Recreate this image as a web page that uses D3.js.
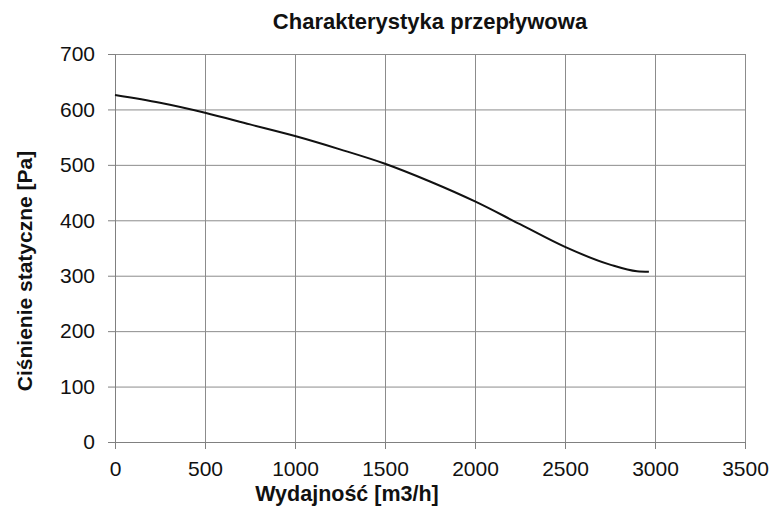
<!DOCTYPE html>
<html><head><meta charset="utf-8">
<script src="https://cdn.jsdelivr.net/npm/d3@7"></script>
<style>body{margin:0;background:#fff}svg{display:block}</style>
</head><body><svg id="c" width="776" height="510"></svg>
<script>
const flow = [0, 250, 500, 750, 1000, 1250, 1500, 1750, 2000, 2250, 2500, 2750, 2900, 2966];
const pressure = [626, 612, 594, 573, 552, 528, 502, 470, 434, 393, 352, 320, 308, 307];
const xTicks = [0, 500, 1000, 1500, 2000, 2500, 3000, 3500];
const yTicks = [0, 100, 200, 300, 400, 500, 600, 700];
const title = "Charakterystyka przepływowa";
const xTitle = "Wydajność [m3/h]";
const yTitle = "Ciśnienie statyczne [Pa]";

const svg = d3.select("#c");
const m = {l:115, r:745, t:54, b:442};
const x = d3.scaleLinear().domain([0,3500]).range([m.l,m.r]);
const y = d3.scaleLinear().domain([0,700]).range([m.b,m.t]);
const font = "'Liberation Sans', Arial, sans-serif";

// grid
svg.append("g").selectAll("line").data(xTicks.slice(1)).join("line")
  .attr("x1",d=>x(d)+0.5).attr("x2",d=>x(d)+0.5).attr("y1",m.t).attr("y2",m.b)
  .attr("stroke","#8c8c8c").attr("stroke-width",1);
svg.append("g").selectAll("line").data(yTicks.slice(1)).join("line")
  .attr("x1",m.l).attr("x2",m.r).attr("y1",d=>y(d)+0.5).attr("y2",d=>y(d)+0.5)
  .attr("stroke","#8c8c8c").attr("stroke-width",1);

// axes
const xa = svg.append("g").attr("transform",`translate(0,${m.b})`)
  .call(d3.axisBottom(x).tickValues(xTicks).tickSize(7).tickPadding(12).tickFormat(d3.format("d")));
const ya = svg.append("g").attr("transform",`translate(${m.l},0)`)
  .call(d3.axisLeft(y).tickValues(yTicks).tickSize(7).tickPadding(13).tickFormat(d3.format("d")));
[xa,ya].forEach(a=>{
  a.select(".domain").attr("stroke","#808080");
  a.selectAll(".tick line").attr("stroke","#808080");
  a.selectAll("text").attr("font-family",font).attr("font-size",21).attr("fill","#111");
});

// curve
const line = d3.line().x((d,i)=>x(flow[i])).y(d=>y(d)).curve(d3.curveMonotoneX);
svg.append("path").attr("d",line(pressure)).attr("fill","none")
  .attr("stroke","#111").attr("stroke-width",2);

// titles
svg.append("text").attr("x",430).attr("y",29).attr("text-anchor","middle")
  .attr("font-family",font).attr("font-weight","bold").attr("font-size",22).attr("fill","#111").text(title);
svg.append("text").attr("x",347).attr("y",501).attr("text-anchor","middle")
  .attr("font-family",font).attr("font-weight","bold").attr("font-size",21.5).attr("fill","#111").text(xTitle);
svg.append("text").attr("transform","translate(32,271) rotate(-90)").attr("text-anchor","middle")
  .attr("font-family",font).attr("font-weight","bold").attr("font-size",21).attr("fill","#111").text(yTitle);
</script></body></html>
